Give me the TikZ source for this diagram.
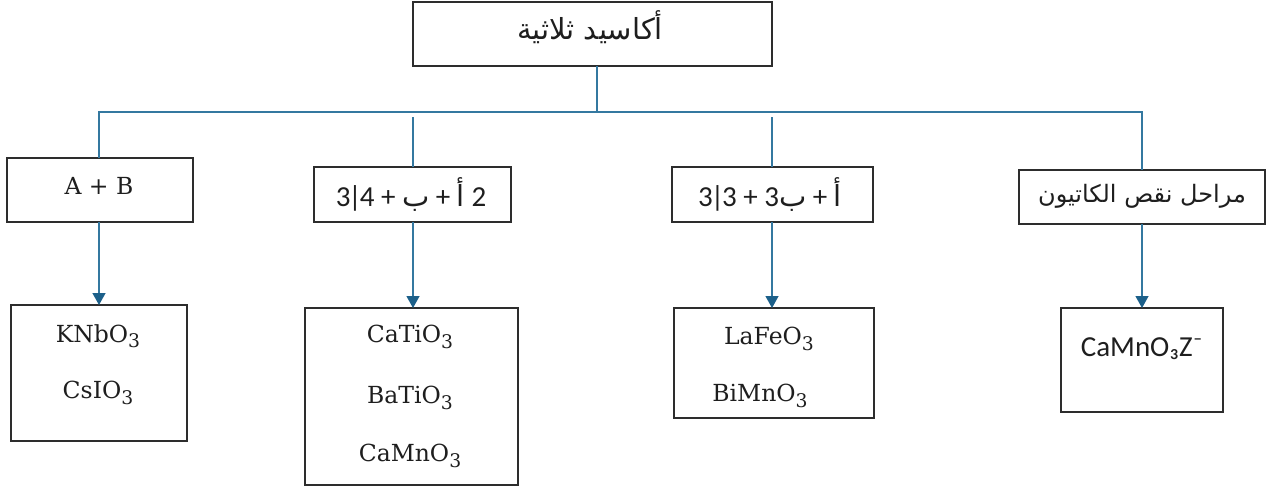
\documentclass[tikz,border=0pt]{standalone}
\usepackage{fontspec}
\usepackage{graphicx}
\usetikzlibrary{arrows.meta}
\TeXXeTstate=1
\newfontfamily\arabicfont[Script=Arabic]{DejaVu Sans}
\newfontfamily\calfont{Carlito}
\newfontfamily\serfont{DejaVu Serif}
\definecolor{linkblue}{RGB}{52,120,160}
\definecolor{tipblue}{RGB}{28,96,138}
\definecolor{boxline}{RGB}{45,45,45}
\definecolor{inktext}{RGB}{30,30,30}
% lowered, reduced index for chemical formulas
\newcommand{\dn}[1]{\raisebox{-0.45ex}{\scalebox{0.8}{#1}}}

\begin{document}
\begin{tikzpicture}[x=1pt,y=-1pt,
  box/.style={draw=boxline, line width=1.4pt, inner sep=0pt, outer sep=0pt},
  link/.style={draw=linkblue, line width=1.3pt},
  flow/.style={link, -{Triangle[width=13pt,length=12pt,color=tipblue]}},
  lat/.style={inner sep=0pt, text=inktext, font=\serfont\fontsize{23.5}{28}\selectfont},
  arb/.style={inner sep=0pt, text=inktext, font=\arabicfont\fontsize{24}{28}\selectfont},
  mix/.style={inner sep=0pt, text=inktext, font=\calfont\fontsize{29}{32}\selectfont},
]
\useasboundingbox (0,0) rectangle (1271,490);

% ---- boxes ----
\node[box, minimum width=359pt, minimum height=64pt] (top) at (592.5,34) {};
\node[box, minimum width=186pt, minimum height=64pt] (b1) at (100,190) {};
\node[box, minimum width=197pt, minimum height=55pt] (b2) at (412.5,194.5) {};
\node[box, minimum width=201pt, minimum height=55pt] (b3) at (772.5,194.5) {};
\node[box, minimum width=246pt, minimum height=54pt] (b4) at (1142,197) {};
\node[box, minimum width=176pt, minimum height=136pt] (c1) at (99,373) {};
\node[box, minimum width=213pt, minimum height=177pt] (c2) at (411.5,396.5) {};
\node[box, minimum width=200pt, minimum height=110pt] (c3) at (774,363) {};
\node[box, minimum width=162pt, minimum height=104pt] (c4) at (1142,360) {};

% ---- tree connectors ----
\coordinate (j0) at (597,112);
\coordinate (jl) at (99,112);
\coordinate (jr) at (1142,112);
\coordinate (j2) at (413,117);
\coordinate (j3) at (772,117);
\draw[link] (top.south -| j0) -- (j0);
\draw[link] (b1.north -| jl) -- (jl) -- (jr) -- (b4.north -| jr);
\draw[link] (j2) -- (b2.north -| j2);
\draw[link] (j3) -- (b3.north -| j3);

% ---- arrows to the examples ----
\draw[flow] (b1.south -| c1.north) -- (c1.north);
\draw[flow] (b2.south -| j2) -- (c2.north -| j2);
\draw[flow] (b3.south -| j3) -- (c3.north -| j3);
\draw[flow] (b4.south) -- (c4.north);

% ---- labels ----
\node[arb, font=\arabicfont\fontsize{29}{32}\selectfont] (t0) at (590,27) {\beginR أكاسيد ثلاثية\endR};
\node[lat] (t1) at (99,186) {A + B};
\node[mix] (t2) at (411,194) {3\kern-2pt|\kern-2pt4 + \hbox{\arabicfont ب} + \hbox{\arabicfont أ} 2};
\node[mix] (t3) at (770,194) {3\kern-2pt|\kern-2pt3 + 3\hbox{\arabicfont ب} + \hbox{\arabicfont أ}};
\node[arb] (t4) at (1142,196) {\beginR مراحل نقص الكاتيون\endR};

\node[lat] (k1) at (98,336) {KNbO\dn{3}};
\node[lat] (k2) at (98,393) {CsIO\dn{3}};
\node[lat] (k3) at (410,337) {CaTiO\dn{3}};
\node[lat] (k4) at (410,398) {BaTiO\dn{3}};
\node[lat] (k5) at (410,456) {CaMnO\dn{3}};
\node[lat] (k6) at (769,339) {LaFeO\dn{3}};
\node[lat] (k7) at (760,396) {BiMnO\dn{3}};
\node[mix] (k8) at (1142,349) {CaMnO₃Z⁻};
\end{tikzpicture}
\end{document}
